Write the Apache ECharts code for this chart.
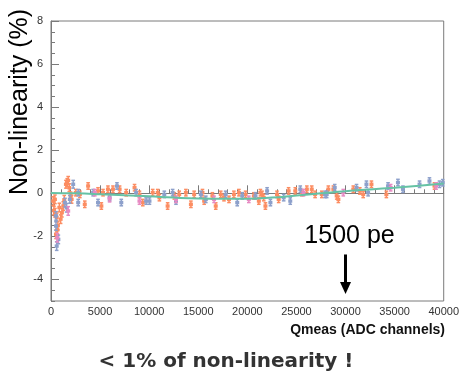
<!DOCTYPE html>
<html>
<head>
<meta charset="utf-8">
<script src="https://cdn.jsdelivr.net/npm/echarts@6/dist/echarts.min.js"></script>
<style>
  html, body { margin: 0; padding: 0; background: #fff; }
  #chart { width: 462px; height: 374px; }
</style>
</head>
<body>
<div id="chart"></div>
<script>
// points: [Qmeas, non-linearity %, error]
const orangePoints = [
  [230, -0.36, 0.2], [300, -0.8, 0.2], [400, -0.28, 0.2], [400, -0.9, 0.2], [510, -1.9, 0.2],
  [580, -1.12, 0.2], [650, -1.7, 0.2], [700, -1.5, 0.2], [850, -0.66, 0.2], [980, -1.2, 0.2],
  [1110, -0.9, 0.2], [1250, -0.59, 0.2], [1350, -0.3, 0.2], [1520, 0.42, 0.18], [1650, 0.5, 0.18],
  [1750, 0.6, 0.18], [1860, 0.26, 0.18], [2000, -0.12, 0.18], [2100, -0.28, 0.18], [2530, 0.03, 0.15],
  [2940, -0.05, 0.15], [3440, -0.51, 0.15], [3780, 0.34, 0.15], [4790, 0.11, 0.15], [5130, -0.59, 0.15],
  [5300, 0.03, 0.15], [5800, 0.19, 0.15], [6310, 0.19, 0.15], [6990, 0.19, 0.15], [7660, 0.03, 0.15],
  [8510, 0.26, 0.15], [9010, -0.05, 0.15], [9350, -0.43, 0.15], [10360, 0.03, 0.15], [10870, 0.03, 0.15],
  [11040, -0.2, 0.15], [11880, -0.59, 0.15], [12560, -0.12, 0.15], [13060, -0.05, 0.15], [13740, 0.03, 0.15],
  [14250, -0.51, 0.15], [14580, -0.05, 0.15], [15430, 0.03, 0.15], [15600, -0.36, 0.15], [16440, -0.12, 0.15],
  [16780, -0.59, 0.15], [17290, -0.05, 0.15], [17620, -0.2, 0.15], [18130, -0.28, 0.15], [18630, -0.05, 0.15],
  [19140, 0.03, 0.15], [19820, -0.05, 0.15], [20660, -0.12, 0.15], [21170, -0.36, 0.15], [21330, 0.03, 0.15],
  [21500, -0.05, 0.15], [21670, -0.2, 0.15], [21840, -0.59, 0.15], [23020, -0.05, 0.15], [23190, -0.28, 0.15],
  [24200, 0.11, 0.15], [24880, 0.11, 0.15], [25550, 0.03, 0.15], [26060, 0.19, 0.15], [26560, 0.19, 0.15],
  [26900, -0.05, 0.15], [27580, -0.05, 0.15], [28250, 0.19, 0.15], [28760, 0.19, 0.15], [29100, -0.12, 0.15],
  [29270, -0.28, 0.15], [30790, 0.19, 0.15], [31460, 0.11, 0.15], [31800, -0.05, 0.15], [32640, 0.42, 0.15],
  [34160, -0.05, 0.15], [39060, 0.34, 0.15]
];
const bluePoints = [
  [510, -1.05, 0.2], [510, -1.52, 0.2], [580, -2.45, 0.2], [750, -2.14, 0.2], [1420, -0.43, 0.2],
  [1590, -0.67, 0.2], [1920, -0.28, 0.18], [2260, 0.42, 0.18], [2770, 0.03, 0.15], [2770, -0.43, 0.15],
  [4290, 0.03, 0.15], [4790, -0.43, 0.15], [5970, -0.2, 0.15], [6720, 0.34, 0.15], [7160, -0.43, 0.15],
  [8670, 0.03, 0.15], [9690, -0.36, 0.15], [10030, -0.36, 0.15], [11540, -0.05, 0.15], [12390, 0.03, 0.15],
  [12730, -0.36, 0.15], [15260, -0.05, 0.15], [15770, -0.28, 0.15], [17790, -0.05, 0.15], [18970, -0.43, 0.15],
  [19480, -0.12, 0.15], [20830, -0.12, 0.15], [22010, 0.11, 0.15], [22350, -0.43, 0.15], [23700, -0.2, 0.15],
  [24370, -0.36, 0.15], [25390, 0.19, 0.15], [27920, -0.05, 0.15], [28080, -0.05, 0.15], [28900, 0.26, 0.15],
  [31120, 0.26, 0.15], [32130, 0.42, 0.15], [32300, 0.03, 0.15], [34330, 0.34, 0.15], [35340, 0.5, 0.15],
  [35850, 0.19, 0.15], [37540, 0.42, 0.15], [38550, 0.57, 0.15], [39570, 0.42, 0.15], [39900, 0.49, 0.15]
];
const pinkPoints = [
  [640, -2.06, 0.2], [1750, -0.82, 0.2], [4460, 0.03, 0.15], [5970, -0.25, 0.15], [9010, -0.36, 0.15],
  [12730, -0.28, 0.15], [16610, -0.28, 0.15], [20150, -0.28, 0.15], [25720, 0.03, 0.15], [29770, 0.03, 0.15],
  [34600, 0.26, 0.15], [39230, 0.34, 0.15]
];
// fitted curve
const fitX = [0, 2500, 5000, 7500, 10000, 12500, 15000, 17500, 20000, 22500, 25000, 27500, 30000, 32500, 35000, 37500, 40000];
const fitY = [0.02, 0.0, -0.04, -0.09, -0.14, -0.2, -0.24, -0.25, -0.25, -0.2, -0.1, 0.0, 0.1, 0.18, 0.26, 0.35, 0.45];
const yLabels = [-4, -2, 0, 2, 4, 6, 8];
const arrowX = 30000;
const arrowFrom = -2.84;
const arrowTo = -4.4;

const chart = echarts.init(document.getElementById('chart'));
const font = 'Liberation Sans, Arial, sans-serif';
const axisColor = '#7a7a7a';

function errorBars(color) {
  return function (params, api) {
    const x = api.value(0), y = api.value(1), e = api.value(2);
    const c = api.coord([x, y]);
    const top = api.coord([x, y + e])[1];
    const bot = api.coord([x, y - e])[1];
    const st = { stroke: color, lineWidth: 1.5 };
    return {
      type: 'group',
      children: [
        { type: 'line', shape: { x1: c[0], y1: top, x2: c[0], y2: bot }, style: st },
        { type: 'line', shape: { x1: c[0] - 1.8, y1: top, x2: c[0] + 1.8, y2: top }, style: st },
        { type: 'line', shape: { x1: c[0] - 1.8, y1: bot, x2: c[0] + 1.8, y2: bot }, style: st },
        { type: 'rect', shape: { x: c[0] - 2, y: c[1] - 1.7, width: 4, height: 3.4 }, style: { fill: color } }
      ]
    };
  };
}

function pointSeries(data, color) {
  return {
    type: 'custom',
    renderItem: errorBars(color),
    encode: { x: 0, y: 1 },
    data: data,
    silent: true
  };
}

chart.setOption({
  animation: false,
  grid: { left: 51, right: 16, top: 21, bottom: 73, show: true, borderColor: axisColor, borderWidth: 1 },
  xAxis: {
    type: 'value', min: 0, max: 40000, interval: 5000,
    axisLine: { show: true, lineStyle: { color: axisColor } },
    axisTick: { show: true, inside: true, length: 8, lineStyle: { color: axisColor } },
    minorTick: { show: true, splitNumber: 5, length: 4, lineStyle: { color: axisColor } },
    axisLabel: { color: '#333', fontSize: 11, fontFamily: font, margin: 5, formatter: v => String(v) },
    splitLine: { show: false }
  },
  yAxis: [{
    type: 'value', min: -5, max: 8, interval: 0.5,
    axisLine: { show: true, lineStyle: { color: axisColor } },
    axisTick: { show: true, inside: true, length: 4, lineStyle: { color: axisColor } },
    axisLabel: { show: false },
    splitLine: { show: false }
  }, {
    type: 'value', min: -5, max: 8, position: 'left', offset: 0,
    axisLine: { show: false },
    axisTick: { show: true, inside: true, length: 8, customValues: yLabels, lineStyle: { color: axisColor } },
    axisLabel: { color: '#333', fontSize: 11, fontFamily: font, margin: 8, customValues: yLabels },
    splitLine: { show: false }
  }],
  graphic: [
    {
      type: 'text', x: 20, y: 102, rotation: Math.PI / 2,
      style: { text: 'Non-linearity (%)', fontSize: 25, fontFamily: font, fill: '#000', align: 'center', verticalAlign: 'middle' }
    },
    {
      type: 'text', x: 445, y: 330,
      style: { text: 'Qmeas (ADC channels)', fontSize: 14, fontWeight: 'bold', fontFamily: font, fill: '#111', align: 'right', verticalAlign: 'middle' }
    },
    {
      type: 'text', x: 226, y: 362,
      style: { text: '< 1% of non-linearity !', fontSize: 20, fontWeight: 'bold', fontFamily: 'DejaVu Sans, sans-serif', fill: '#333', align: 'center', verticalAlign: 'middle' }
    }
  ],
  series: [
    pointSeries(orangePoints, '#fc8d62'),
    pointSeries(bluePoints, '#8da0cb'),
    pointSeries(pinkPoints, '#e78ac3'),
    {
      type: 'line',
      data: fitX.map((x, i) => [x, fitY[i]]),
      showSymbol: false,
      smooth: true,
      lineStyle: { color: '#66c2a5', width: 2 },
      silent: true,
      markLine: {
        silent: true,
        symbol: ['none', 'triangle'],
        symbolSize: [11, 12],
        lineStyle: { color: '#000', width: 3, type: 'solid' },
        label: { show: true, position: 'start', formatter: '1500 pe', fontSize: 25, fontFamily: font, color: '#000', distance: 6, offset: [4, 0] },
        data: [[{ coord: [arrowX, arrowFrom] }, { coord: [arrowX, arrowTo] }]]
      }
    }
  ]
});
</script>
</body>
</html>
